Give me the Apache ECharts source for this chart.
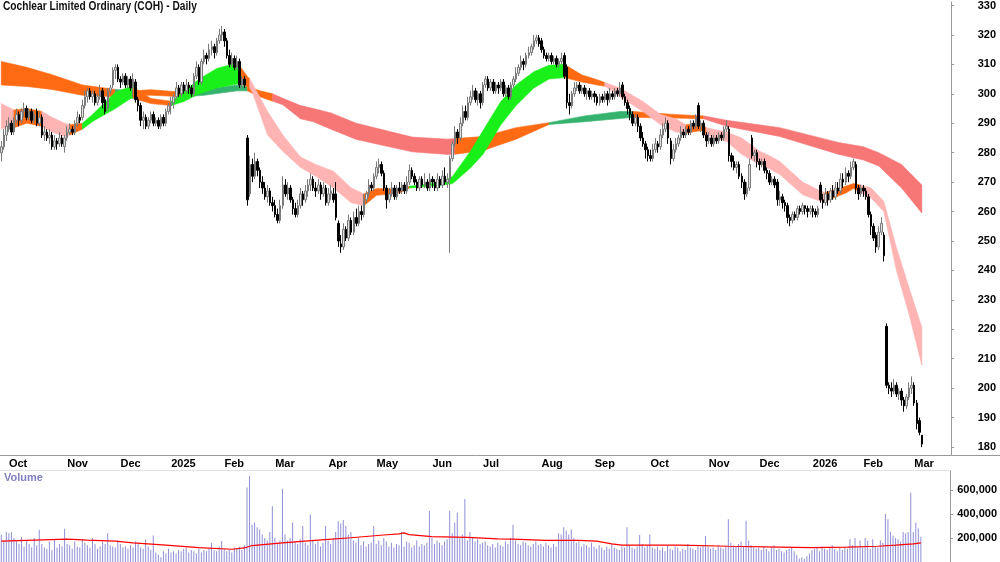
<!DOCTYPE html>
<html>
<head>
<meta charset="utf-8">
<script src="https://cdn.jsdelivr.net/npm/echarts@6/dist/echarts.min.js"></script>
<style>
  html, body { margin: 0; padding: 0; background: #fff; }
  #chart { width: 1000px; height: 562px; }
</style>
</head>
<body>
<div id="chart"></div>
<script>
  // trading days: last 3 of Sep 2024, then one label per month, then empty slots on the right
  const leadDays = 3;
  const monthLabels = ['Oct', 'Nov', 'Dec', '2025', 'Feb', 'Mar', 'Apr', 'May', 'Jun', 'Jul', 'Aug', 'Sep', 'Oct', 'Nov', 'Dec', '2026', 'Feb', 'Mar'];
  const monthDays = [23, 21, 20, 21, 20, 21, 19, 22, 20, 23, 21, 22, 23, 20, 21, 20, 20, 4];
  const padDays = 11;

  // [open, close, low, high]
  const ohlc = [
    [280,282,277,284],[282,286,281,288],[286,289,284,291],
    // Oct 2024
    [288,290,287,292],[290,287,286,291],[287,291,286,292],[291,293,290,295],[293,291,289,294],[291,294,290,295],
    [294,295,292,297],[295,292,291,296],[292,294,291,295],[294,291,290,295],[291,293,290,294],[294,290,289,295],
    [290,292,289,294],[292,286,285,293],[286,287,284,289],[287,285,284,288],[285,286,283,288],[286,282,281,287],
    [282,284,281,286],[284,283,281,285],[283,285,282,287],[285,283,282,286],[282,285,280,286],
    // Nov
    [285,287,284,289],[287,288,286,290],[288,287,286,289],[287,290,286,291],[290,292,289,294],[292,291,290,293],
    [292,296,291,298],[296,299,295,301],[299,301,297,302],[301,299,298,302],[299,300,297,301],[300,297,296,301],
    [297,299,296,300],[299,301,298,303],[301,297,295,302],[298,294,293,299],[295,301,294,302],[301,302,300,303],
    [303,308,302,309],[308,309,305,310],[309,305,304,310],
    // Dec
    [305,304,302,306],[304,306,303,307],[306,303,302,307],[303,305,302,306],[305,302,301,306],[302,305,299,307],
    [304,298,297,305],[298,296,294,299],[296,291,289,297],[291,292,288,294],[292,289,288,293],[289,291,288,292],
    [291,293,290,294],[293,290,289,294],[290,291,289,292],[291,289,288,292],[289,292,288,293],[292,290,289,293],
    [290,294,289,295],[294,296,293,297],
    // Jan 2025
    [296,297,293,299],[297,299,295,300],[299,302,298,304],[302,300,299,303],[300,303,299,304],[303,301,300,304],
    [301,303,300,305],[303,302,300,304],[302,300,299,303],[300,306,299,307],[306,309,305,311],[309,304,303,310],
    [304,311,303,312],[311,313,310,315],[313,312,310,314],[312,315,311,317],[315,316,313,318],[316,314,312,317],
    [314,318,313,319],[318,320,317,322],[320,321,318,323],
    // Feb
    [321,318,316,322],[318,313,312,319],[313,310,309,315],[310,312,309,314],[312,309,308,313],[309,311,308,313],
    [311,303,302,312],[303,305,302,306],[305,303,302,306],[285,264,262,286],[266,276,265,279],[276,272,270,278],
    [272,277,271,280],[277,274,272,278],[274,270,268,275],[270,268,266,272],[268,265,264,270],[265,267,263,269],
    [267,263,262,268],[263,262,260,265],
    // Mar
    [262,259,258,264],[259,257,256,261],[257,262,256,264],[262,269,261,272],[269,266,265,271],[266,268,264,270],
    [268,264,263,269],[264,261,259,265],[261,259,258,263],[259,262,258,264],[262,266,261,268],[266,264,262,267],
    [264,267,263,269],[267,269,265,271],[269,271,267,273],[271,268,267,272],[268,267,265,270],[267,269,266,271],
    [269,266,264,270],[266,268,265,270],[268,263,262,269],
    // Apr
    [263,266,262,268],[266,267,264,269],[266,264,263,268],[266,258,257,270],[256,250,248,257],[249,248,246,252],
    [248,254,247,256],[254,251,250,255],[251,257,250,259],[257,253,252,258],[253,258,252,260],[258,256,255,261],
    [256,260,255,262],[260,259,257,262],[259,264,258,266],[264,266,263,267],[266,269,265,271],[269,268,267,270],
    [268,272,267,273],
    // May
    [272,275,271,277],[275,276,273,278],[276,273,272,277],[273,268,267,274],[268,264,261,269],[264,266,263,268],
    [266,268,265,270],[268,265,264,269],[265,268,264,269],[268,267,266,270],[267,269,266,270],[269,267,266,270],
    [267,270,266,272],[270,274,269,276],[274,272,271,275],[272,270,269,273],[270,268,267,271],[268,271,267,272],
    [271,269,268,272],[269,270,268,273],[270,268,267,271],[268,271,267,273],
    // Jun
    [271,270,268,272],[270,268,267,271],[268,271,267,273],[271,269,268,272],[269,272,268,274],[272,270,269,275],
    [270,271,268,273],[271,278,246,279],[278,283,277,284],[283,287,282,289],[287,285,283,288],[285,290,284,292],
    [290,294,289,296],[294,292,291,296],[292,297,291,299],[297,299,296,301],[299,301,298,303],[301,298,297,302],
    [298,300,296,301],[300,297,295,301],
    // Jul
    [297,303,296,304],[303,305,302,306],[305,302,301,306],[302,304,301,305],[304,301,300,305],[301,303,300,304],
    [303,302,300,304],[302,304,301,305],[304,300,299,305],[300,302,299,303],[302,299,298,303],[299,303,298,304],
    [303,305,302,306],[305,307,304,309],[307,309,306,310],[309,311,308,313],[311,310,308,312],[310,313,309,314],
    [313,314,312,316],[314,316,313,317],[316,318,315,320],[318,319,317,320],[319,317,316,320],
    // Aug
    [318,315,314,319],[315,313,312,316],[313,312,311,314],[312,313,311,314],[313,311,310,314],[311,312,310,313],
    [312,310,309,313],[310,311,309,312],[311,312,310,314],[313,306,305,314],[309,297,295,310],[297,296,293,300],
    [296,300,295,301],[300,302,299,304],[302,303,301,304],[303,301,300,304],[301,302,300,303],[302,300,299,303],
    [300,301,298,302],[301,299,298,302],[299,300,298,301],
    // Sep
    [300,299,297,301],[299,297,296,300],[297,299,296,300],[299,298,297,300],[298,300,297,301],[300,298,296,301],
    [298,300,297,302],[300,299,298,301],[299,301,298,302],[301,300,299,302],[300,302,299,304],[303,299,298,304],
    [299,297,296,300],[297,295,293,298],[295,293,291,296],[293,290,289,294],[290,292,289,293],[292,289,287,293],
    [289,285,284,290],[285,283,282,287],[283,281,278,284],[281,279,277,282],
    // Oct
    [279,278,277,281],[278,281,277,283],[281,283,280,285],[283,282,280,284],[282,286,281,288],[286,288,285,290],
    [288,290,287,292],[290,285,283,291],[284,278,276,285],[278,281,277,283],[281,283,280,285],[283,285,282,286],
    [285,287,284,289],[287,286,285,288],[286,288,285,289],[288,287,286,289],[287,290,286,291],[290,289,288,291],
    [289,292,288,293],[296,289,288,297],[289,290,287,291],[290,286,285,291],[286,284,282,287],
    // Nov
    [284,285,283,287],[285,283,282,286],[283,285,282,286],[285,284,283,286],[284,286,283,287],[286,285,284,287],
    [285,288,284,289],[288,289,287,291],[288,279,277,289],[279,277,275,280],[277,275,274,279],[275,276,273,277],
    [276,272,271,277],[272,270,268,273],[270,266,264,271],[266,268,265,270],[268,276,267,278],[285,279,278,286],
    [279,280,277,281],[280,277,275,281],
    // Dec
    [277,276,274,278],[276,277,275,278],[277,274,273,278],[274,273,271,275],[273,270,269,274],[270,271,269,272],
    [271,269,268,272],[270,264,262,271],[264,265,262,267],[265,263,261,266],[263,262,260,264],[262,258,256,263],
    [258,257,255,259],[257,259,256,260],[259,258,257,260],[258,261,257,262],[261,260,259,262],[260,262,259,263],
    [262,261,259,262],[261,260,258,262],[260,261,259,262],
    // Jan 2026
    [261,260,258,262],[260,259,258,261],[259,261,258,262],[269,264,263,270],[264,263,261,266],[263,266,262,268],
    [266,264,262,267],[264,267,263,268],[267,265,264,269],[265,268,264,270],[268,267,266,270],[267,271,266,273],
    [271,270,268,273],[270,273,269,275],[273,272,270,274],[272,275,271,277],[275,277,274,278],[276,268,266,277],
    [268,266,264,269],[266,268,265,269],
    // Feb
    [268,267,265,269],[267,265,264,268],[265,259,258,266],[259,255,252,260],[255,251,250,256],[252,248,246,253],
    [248,253,247,255],[253,256,252,258],[252,245,243,253],[221,201,200,222],[201,200,198,202],[200,199,197,202],
    [199,201,198,203],[201,198,197,202],[198,199,196,200],[199,196,194,200],[196,194,192,197],[194,197,193,198],
    [197,200,196,202],[200,201,198,204],
    // Mar
    [201,195,194,202],[195,188,186,196],[189,185,184,190],[184,181,180,184]
  ];

  // daily volume, thousands of shares
  const volumesK = [
    230,180,250,
    240,250,200,170,150,210,130,180,150,120,200,140,268,150,120,110,170,100,190,120,150,130,278,
    150,140,110,170,130,120,190,160,140,120,200,150,110,130,170,150,240,140,130,120,180,
    150,120,130,110,140,120,170,150,120,110,190,130,100,220,80,60,40,90,70,110,
    80,90,70,100,90,110,120,80,100,90,70,110,80,100,90,120,160,100,90,130,175,
    110,90,100,80,120,110,130,100,140,620,717,310,330,290,270,230,200,180,250,465,
    200,160,180,610,230,180,200,330,170,150,190,300,160,140,395,180,150,170,130,160,300,
    180,150,200,250,340,320,350,300,230,250,180,160,200,140,170,130,150,160,300,
    150,180,140,200,170,130,160,120,150,140,250,130,170,160,120,140,180,130,150,140,160,425,
    200,150,180,160,140,170,190,425,240,330,410,200,230,525,180,250,200,170,190,150,
    160,170,140,130,150,120,160,140,130,170,150,200,310,180,150,140,170,160,140,130,150,170,140,
    150,130,160,140,120,150,130,240,230,290,260,230,270,200,160,170,130,150,140,120,160,
    130,110,140,120,100,130,110,150,120,110,100,130,120,290,140,120,110,130,225,150,120,140,
    230,120,110,130,100,120,90,140,110,100,130,120,90,110,100,150,120,110,100,130,120,140,215,
    130,110,120,100,140,120,110,130,357,160,140,130,150,170,130,343,180,140,120,110,
    120,100,130,110,90,120,140,100,110,90,80,100,110,120,90,60,30,40,25,50,70,
    100,110,120,90,130,110,100,120,140,110,90,120,100,130,110,190,140,200,120,180,
    120,200,180,110,190,130,120,180,160,400,357,250,220,200,190,170,250,240,250,577,
    250,330,280,210
  ];

  // volume average line, [day, thousands]
  const volumeAvgK = [
    [0,174],[13,182],[26,191],[34,182],[45,174],[52,160],[65,140],[78,120],[91,106],[96,117],[99,137],
    [111,160],[125,182],[138,202],[151,225],[157,234],[159,243],[161,228],[170,211],[184,205],[196,192],
    [202,191],[215,180],[228,180],[235,174],[241,151],[245,140],[268,140],[287,131],[307,124],[320,120],
    [334,124],[346,131],[353,140],[360,151],[363,160]
  ];

  const priceTicks = [180, 190, 200, 210, 220, 230, 240, 250, 260, 270, 280, 290, 300, 310, 320, 330];

  // long-term band: [day, upper, lower]
  const longBand = [
    [0,311,303],[10,309,302.5],[20,306.5,301.5],[32,303,299.5],[45,301.5,299],[52,301,299.5],[59,301.4,299.5],
    [72,300.5,299],[80,301.5,299.5],[93,303,301],[97,302.5,301],[102,301,299],[107,300,297.5],[111,298.5,296.3],
    [118,296,291.5],[123,295,290.5],[130,293.5,288],[140,290,284.5],[162,285.3,280.3],[176,284.6,279.4],
    [179,284.8,279.5],[190,285.5,280.7],[203,288.5,284.6],[216,290.2,289.6],[230,292.5,290.5],[244,294,291.6],
    [249,294,292],[265,293,291.8],[277,292.5,291.5],[286,291,289],[307,288.5,285.5],[330,283.5,279.5],
    [340,282,277.5],[346,280,275.5],[355,276,268],[363,269,259.5]
  ];
  // [from day, to day, trend]
  const longTrend = [
    [0,45,'cross'],[45,52,'up'],[52,72,'cross'],[72,97,'up'],[97,107,'cross'],[107,179,'down'],
    [179,216,'cross'],[216,249,'up'],[249,277,'cross'],[277,363,'down']
  ];

  // short-term band: [day, upper, lower]
  const shortBand = [
    [0,296.7,288.2],[5,294.5,288.5],[10,295,290],[16,294,289],[20,292,287],[25,290,285.5],[27,289.5,286],
    [32,290,288],[36,293,290.6],[45,300.5,295],[51,302.5,298.4],[52,302.3,298.5],[59,298.4,296.7],[67,297.5,296],
    [72,300.7,297.4],[78,305,300],[85,308.6,302],[91,310,303],[94,309.5,303.5],[97,306,302.5],[98,305,302],
    [99,303.5,300.5],[105,294,286],[111,286,280.5],[118,278.5,275],[124,276,272],[131,273.7,268],[138,268,263],
    [143,266,262],[148,267.8,265.5],[157,267.6,266.3],[161,268.6,268],[174,270,269],[178,272,269.5],
    [185,280.5,274.8],[190,287.5,279.5],[197,297.4,289.5],[203,303,296],[210,307.5,302],[216,309.7,305],
    [222,310,305.5],[229,306.4,304],[235,304.8,303],[238,303.8,302.6],[244,302,299],[253,297.4,294],
    [260,293,289.5],[266,291.5,287],[270,289.5,286.6],[276,290,287.5],[278,288.5,286],[286,287,283.8],
    [292,285,279.4],[299,280.5,276],[303,279,274.5],[307,277,272.6],[316,270,265.7],[323,267,263.5],
    [325,266.5,263.5],[333,268.6,266.3],[336,269.5,267.8],[339,269,266.5],[343,268,264.6],[348,263.5,260],
    [353,247.7,240],[358,234,225],[363,220.7,207.8]
  ];
  const shortTrend = [
    [0,5,'down'],[5,16,'cross'],[16,27,'down'],[27,32,'cross'],[32,52,'up'],[52,67,'cross'],[67,94,'up'],
    [94,98,'cross'],[98,143,'down'],[143,161,'cross'],[161,222,'up'],[222,238,'cross'],[238,270,'down'],
    [270,278,'cross'],[278,325,'down'],[325,339,'cross'],[339,363,'down']
  ];

  const categories = [];
  const labelAt = {};
  for (let d = 0; d < leadDays; d++) categories.push('Sep-' + d);
  monthLabels.forEach((m, k) => {
    labelAt[categories.length] = m;
    for (let d = 0; d < monthDays[k]; d++) categories.push(m + '-' + k + '-' + d);
  });
  for (let d = 0; d < padDays; d++) categories.push('pad-' + d);

  const isMonthStart = (index) => labelAt[index] !== undefined;
  const FONT = "'Liberation Sans', Arial, sans-serif";

  function bandSeries(band, trend, colors) {
    return {
      type: 'custom',
      silent: true,
      data: trend.map(t => [t[0], band[0][1]]),
      renderItem(params, api) {
        const t = trend[params.dataIndex];
        const part = band.filter(p => p[0] >= t[0] && p[0] <= t[1]);
        const top = part.map(p => api.coord([p[0], p[1]]));
        const bottom = part.map(p => api.coord([p[0], p[2]])).reverse();
        const c = colors[t[2]];
        return {
          type: 'polygon',
          shape: { points: top.concat(bottom) },
          style: { fill: c, stroke: c, lineWidth: 0.6 }
        };
      }
    };
  }

  const chart = echarts.init(document.getElementById('chart'));
  chart.setOption({
    animation: false,
    backgroundColor: '#fff',
    graphic: [
      {
        type: 'text', x: 3, y: 1, scaleX: 0.85,
        style: { text: 'Cochlear Limited Ordinary (COH) - Daily', font: "bold 12px 'Liberation Sans', Arial", fill: '#111', textVerticalAlign: 'top' }
      },
      { type: 'text', left: 4, top: 472, style: { text: 'Volume', font: "bold 11px 'Liberation Sans', Arial", fill: '#8080c0' } },
      { type: 'line', shape: { x1: 0, y1: 470.5, x2: 951, y2: 470.5 }, style: { stroke: '#e2e2e2', lineWidth: 1 } },
      { type: 'line', shape: { x1: 951, y1: 455.5, x2: 1000, y2: 455.5 }, style: { stroke: '#999', lineWidth: 1 } }
    ],
    grid: [
      { left: 0, right: 49, top: 0, height: 455 },
      { left: 0, right: 49, top: 471, height: 91 }
    ],
    xAxis: [{
      type: 'category',
      gridIndex: 0,
      data: categories,
      boundaryGap: true,
      axisLine: { lineStyle: { color: '#999' } },
      axisTick: { interval: isMonthStart, length: 4, lineStyle: { color: '#999' } },
      axisLabel: {
        interval: isMonthStart,
        formatter: (v, i) => labelAt[i] || '',
        align: 'left',
        margin: 3,
        color: '#000',
        fontWeight: 'bold',
        fontSize: 11,
        fontFamily: FONT
      },
      splitLine: { show: false }
    }, {
      type: 'category',
      gridIndex: 1,
      data: categories,
      boundaryGap: true,
      axisLine: { show: false },
      axisTick: { show: false },
      axisLabel: { show: false }
    }],
    yAxis: [{
      type: 'value',
      gridIndex: 0,
      position: 'right',
      min: 177.3,
      max: 331.2,
      axisLine: { show: true, lineStyle: { color: '#999' } },
      axisTick: { show: true, length: 3, customValues: priceTicks, lineStyle: { color: '#999' } },
      axisLabel: {
        customValues: priceTicks,
        align: 'right',
        margin: 45,
        color: '#000',
        fontWeight: 'bold',
        fontSize: 11,
        fontFamily: FONT
      },
      splitLine: { show: false }
    }, {
      type: 'value',
      gridIndex: 1,
      position: 'right',
      min: 0,
      max: 758000,
      interval: 200000,
      axisLine: { show: true, lineStyle: { color: '#999' } },
      axisTick: { show: true, length: 3, lineStyle: { color: '#999' } },
      axisLabel: {
        showMaxLabel: false,
        formatter: v => (v === 0 || v > 600000 ? '' : v.toLocaleString('en-US')),
        align: 'right',
        margin: 47,
        color: '#000',
        fontWeight: 'bold',
        fontSize: 11,
        fontFamily: FONT
      },
      splitLine: { show: false }
    }],
    series: [
      bandSeries(longBand, longTrend, { up: '#35b36e', cross: '#ff6a13', down: '#f77676' }),
      bandSeries(shortBand, shortTrend, { up: '#19f019', cross: '#ff6a13', down: '#ffb4b4' }),
      {
        type: 'candlestick',
        data: ohlc,
        barWidth: 2,
        itemStyle: {
          color: '#e2e2e2',
          borderColor: '#7a7a7a',
          color0: '#000',
          borderColor0: '#000',
          borderWidth: 1
        }
      },
      {
        type: 'bar',
        xAxisIndex: 1,
        yAxisIndex: 1,
        data: volumesK.map(v => v * 1000),
        barWidth: 1,
        itemStyle: { color: '#8f8fd6' }
      },
      {
        type: 'line',
        xAxisIndex: 1,
        yAxisIndex: 1,
        data: volumeAvgK.map(p => [p[0], p[1] * 1000]),
        symbol: 'none',
        lineStyle: { color: '#ff0000', width: 1.2 }
      }
    ]
  });
</script>
</body>
</html>
